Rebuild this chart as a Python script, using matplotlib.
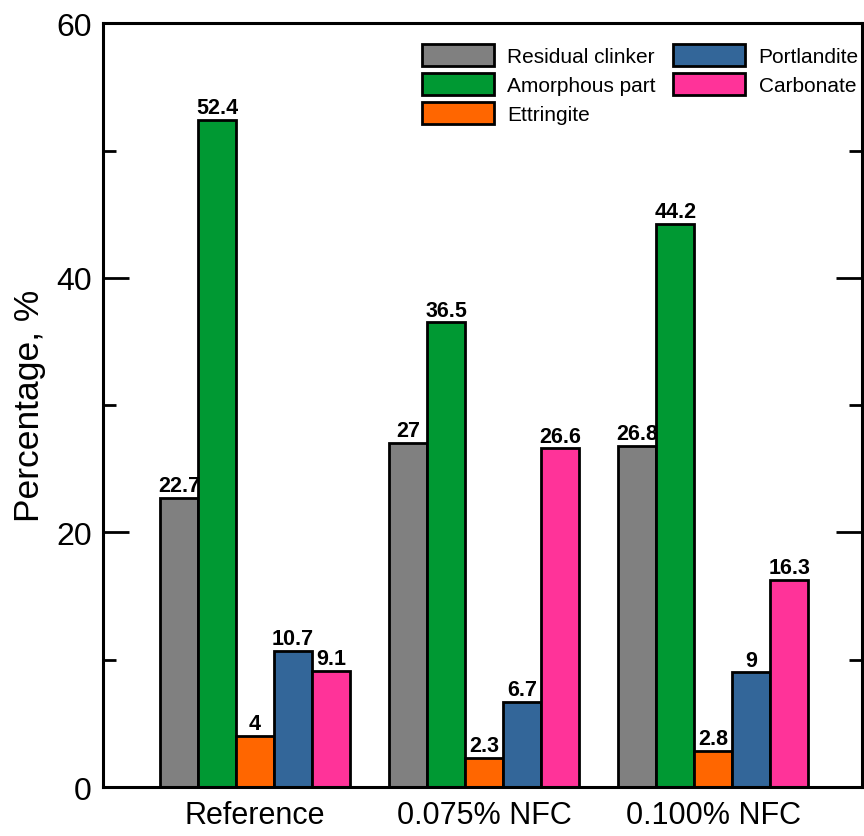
import matplotlib
matplotlib.use("Agg")
import matplotlib.pyplot as plt
import numpy as np

plt.rcParams['font.family'] = ['Liberation Sans', 'DejaVu Sans']

groups = ["Reference", "0.075% NFC", "0.100% NFC"]
phases = ["Residual clinker", "Amorphous part", "Ettringite", "Portlandite", "Carbonate"]
residual_clinker = [22.7, 27, 26.8]
amorphous_part = [52.4, 36.5, 44.2]
ettringite = [4, 2.3, 2.8]
portlandite = [10.7, 6.7, 9]
carbonate = [9.1, 26.6, 16.3]
labels_txt = [["22.7", "27", "26.8"], ["52.4", "36.5", "44.2"], ["4", "2.3", "2.8"],
              ["10.7", "6.7", "9"], ["9.1", "26.6", "16.3"]]
colors = ["#808080", "#009933", "#FF6600", "#336699", "#FF3399"]
series = [residual_clinker, amorphous_part, ettringite, portlandite, carbonate]

fig = plt.figure(figsize=(8.64, 8.37), dpi=100)
ax = fig.add_axes([0.119, 0.0585, 0.879, 0.9125])

x = np.arange(len(groups))
w = 0.166
handles = []
for i, (vals, c, name) in enumerate(zip(series, colors, phases)):
    pos = x + (i - 2) * w
    b = ax.bar(pos, vals, width=w, color=c, edgecolor="black", linewidth=2.0, label=name, zorder=2)
    handles.append(b)
    for p, v, t in zip(pos, vals, labels_txt[i]):
        ax.text(p, v + 0.15, t, ha="center", va="bottom", fontsize=15.5, fontweight="bold")

ax.set_xlim(-0.664, 2.65)
ax.set_ylim(0, 60)
ax.set_xticks(x)
ax.set_xticklabels(groups, fontsize=22)
ax.set_yticks([0, 20, 40, 60])
ax.set_yticks([10, 30, 50], minor=True)
ax.tick_params(axis="y", which="major", direction="in", length=19, width=2, labelsize=23, right=True, pad=8)
ax.tick_params(axis="y", which="minor", direction="in", length=9.5, width=2, right=True)
ax.tick_params(axis="x", which="both", length=0, pad=9)
for s in ax.spines.values():
    s.set_linewidth(2.2)
ax.set_ylabel("Percentage, %", fontsize=25.5, labelpad=7)

leg = ax.legend(handles=handles, labels=phases,
                ncol=2, loc="upper right", bbox_to_anchor=(0.998, 0.975), frameon=False,
                fontsize=15, handlelength=3.46, handleheight=1.25, labelspacing=0.33,
                columnspacing=0.85, handletextpad=0.63, borderaxespad=0.0, borderpad=0.1)

fig.savefig("out.png", dpi=100)
